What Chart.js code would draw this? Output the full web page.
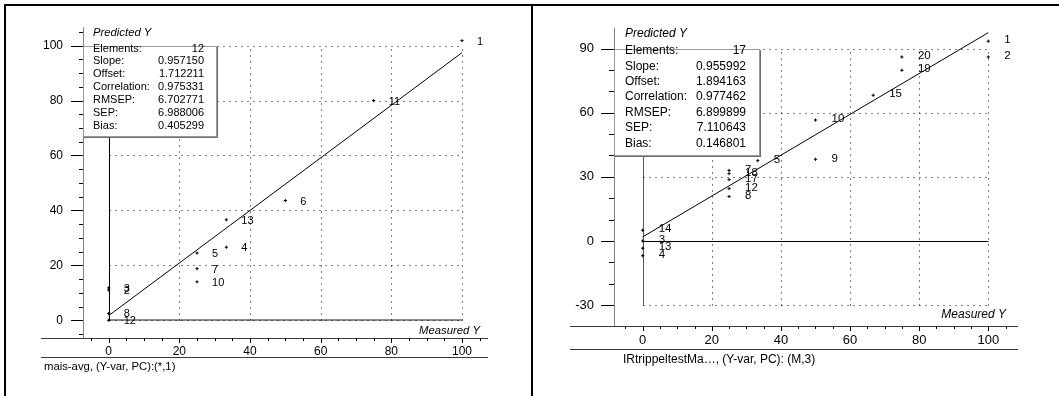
<!DOCTYPE html>
<html>
<head>
<meta charset="utf-8">
<script src="https://cdn.jsdelivr.net/npm/chart.js@4/dist/chart.umd.min.js"></script>
<style>
  body { margin: 0; background: #fff; width: 1059px; height: 396px; position: relative; overflow: hidden; }
  .pane { position: absolute; top: 0; height: 396px; }
  .frame { position: absolute; background: #000; }
</style>
</head>
<body>
<div class="pane" style="left:0;width:531px"><canvas id="left" width="531" height="396"></canvas></div>
<div class="pane" style="left:531px;width:528px"><canvas id="right" width="528" height="396"></canvas></div>
<div class="frame" style="left:4px;top:4px;width:2px;height:392px"></div>
<div class="frame" style="left:4px;top:4px;width:1055px;height:2px"></div>
<div class="frame" style="left:531px;top:4px;width:2px;height:392px"></div>
<script>
// left plot: mais-avg
const leftIds       = ['1', '2', '3', '4', '5', '6', '7', '8', '10', '11', '12', '13'];
const leftMeasured  = [100, 0, 0, 33.3, 25, 50, 25, 0, 25, 75, 0, 33.3];
const leftPredicted = [101.8, 11.0, 11.8, 26.6, 24.5, 43.6, 18.8, 2.5, 14.0, 80.0, 0, 36.6];
const leftFitX = [0, 100];
const leftFitY = [1.71, 97.43];
const leftStatValues = ['12', '0.957150', '1.712211', '0.975331', '6.702771', '6.988006', '0.405299'];
const leftXTicks = [0, 20, 40, 60, 80, 100];
const leftYTicks = [0, 20, 40, 60, 80, 100];

// right plot: IRtrippeltest
const rightIds       = ['1', '2', '20', '19', '15', '10', '9', '5', '7', '18', '17', '12', '8', '14', '3', '13', '4'];
const rightMeasured  = [100, 100, 75, 75, 66.7, 50, 50, 33.3, 25, 25, 25, 25, 25, 0, 0, 0, 0];
const rightPredicted = [93.5, 86.1, 86.1, 79.9, 68.2, 56.6, 38.2, 37.6, 33.0, 31.5, 28.7, 24.5, 20.8, 5.0, 0, -3.4, -6.9];
const rightFitX = [0, 100];
const rightFitY = [1.89, 97.49];
const rightStatValues = ['17', '0.955992', '1.894163', '0.977462', '6.899899', '7.110643', '0.146801'];
const rightXTicks = [0, 20, 40, 60, 80, 100];
const rightYTicks = [-30, 0, 30, 60, 90];

const statNames = ['Elements:', 'Slope:', 'Offset:', 'Correlation:', 'RMSEP:', 'SEP:', 'Bias:'];
const FONT = '"Liberation Sans", Arial, sans-serif';

function seg(ctx, x1, y1, x2, y2) {
    ctx.beginPath();
    ctx.moveTo(x1, y1);
    ctx.lineTo(x2, y2);
    ctx.stroke();
}

function scatterPanel(id, p) {
    const pts = p.xs.map((v, i) => ({x: v, y: p.ys[i]}));
    const fit = p.fitX.map((v, i) => ({x: v, y: p.fitY[i]}));

    const panelPlugin = {
        id: 'panel' + id,
        beforeDatasetsDraw(chart) {
            const ctx = chart.ctx;
            const x = chart.scales.x, y = chart.scales.y;
            const a = chart.chartArea;
            const px = v => Math.round(x.getPixelForValue(v)) + 0.5;
            const py = v => Math.round(y.getPixelForValue(v)) + 0.5;
            ctx.save();
            ctx.lineWidth = 1;

            // zero lines
            if (p.zeroGray) {
                ctx.strokeStyle = '#8c8c8c';
                ctx.lineWidth = 2;
                seg(ctx, px(0), Math.round(y.getPixelForValue(0)), px(100), Math.round(y.getPixelForValue(0)));
                ctx.lineWidth = 1;
            } else {
                ctx.strokeStyle = '#000';
                seg(ctx, px(0), py(0), px(100), py(0));
            }
            ctx.strokeStyle = p.zeroXColor;
            seg(ctx, px(0), py(p.yLo), px(0), py(p.yHi));

            // dotted grid
            ctx.strokeStyle = '#000';
            ctx.setLineDash([1, 5]);
            p.gridX.forEach(v => seg(ctx, px(v), py(p.yLo), px(v), py(p.yHi)));
            p.gridY.forEach(v => seg(ctx, px(0), py(v), px(100), py(v)));
            ctx.setLineDash([]);

            // axis lines
            ctx.strokeStyle = '#808080';
            seg(ctx, a.left + 0.5, a.top, a.left + 0.5, a.bottom);
            ctx.strokeStyle = '#3a3a3a';
            seg(ctx, p.lineL, a.bottom + 0.5, a.right, a.bottom + 0.5);
            seg(ctx, p.lineL, p.line2 + 0.5, a.right, p.line2 + 0.5);

            // ticks
            ctx.strokeStyle = '#000';
            for (let v = Math.ceil(y.min / p.yMinor) * p.yMinor; v <= y.max; v += p.yMinor) {
                const major = p.yTicks.includes(v);
                seg(ctx, a.left - (major ? p.yMajorLen : p.yMinorLen), py(v), a.left, py(v));
            }
            for (let v = Math.ceil(x.min / 5) * 5; v <= x.max; v += 5) {
                const major = p.xTicks.includes(v);
                seg(ctx, px(v), a.bottom, px(v), a.bottom + (major ? 5 : 3));
            }
            ctx.restore();
        },
        afterDatasetsDraw(chart) {
            const ctx = chart.ctx;
            const x = chart.scales.x, y = chart.scales.y;
            const a = chart.chartArea;
            ctx.save();
            ctx.fillStyle = '#000';
            ctx.textBaseline = 'middle';

            // point numbers
            ctx.font = p.labelSize + 'px ' + FONT;
            ctx.textAlign = 'left';
            pts.forEach((pt, i) => {
                ctx.fillText(p.ids[i], x.getPixelForValue(pt.x) + p.labelDx, y.getPixelForValue(pt.y) + p.labelDy);
            });

            // statistics box
            const bx = a.left, by = Math.round(y.getPixelForValue(p.yTicks[p.yTicks.length - 1]));
            const bw = p.boxRight - bx, bh = p.boxBottom - by;
            ctx.fillStyle = '#fff';
            ctx.fillRect(bx, by, bw, bh);
            ctx.strokeStyle = '#9a9a9a';
            ctx.lineWidth = 1;
            ctx.strokeRect(bx + 0.5, by + 0.5, bw, bh);
            ctx.strokeStyle = '#6e6e6e';
            seg(ctx, bx + bw + 1.5, by + 1, bx + bw + 1.5, by + bh + 2);
            seg(ctx, bx + 1, by + bh + 1.5, bx + bw + 2, by + bh + 1.5);

            ctx.fillStyle = '#000';
            ctx.font = p.boxSize + 'px ' + FONT;
            statNames.forEach((n, i) => {
                const ty = p.rowTop + i * p.rowStep;
                ctx.textAlign = 'left';
                ctx.fillText(n, p.textL, ty);
                ctx.textAlign = 'right';
                ctx.fillText(p.stats[i], p.textR, ty);
            });

            // axis titles
            ctx.font = 'italic ' + p.titleSize + 'px ' + FONT;
            ctx.textAlign = 'left';
            ctx.fillText('Predicted Y', p.textL, p.predY);
            ctx.textAlign = 'right';
            ctx.fillText('Measured Y', p.measX, p.measY);

            // footer
            ctx.font = p.footSize + 'px ' + FONT;
            ctx.textAlign = 'left';
            ctx.fillText(p.footer, p.footX, p.footY);
            ctx.restore();
        }
    };

    const config = {
        type: 'scatter',
        data: {
            datasets: [{
                data: fit,
                showLine: true,
                borderColor: '#000',
                borderWidth: 1,
                pointRadius: 0
            }, {
                data: pts,
                pointStyle: 'cross',
                pointRadius: 1.6,
                borderColor: '#000',
                borderWidth: 1
            }]
        },
        options: {
            responsive: false,
            animation: false,
            devicePixelRatio: 1,
            layout: {padding: {top: 22, right: p.padRight, left: 0, bottom: 0}},
            plugins: {legend: {display: false}, tooltip: {enabled: false}},
            scales: {
                x: {
                    type: 'linear', position: 'bottom', min: p.xMin, max: p.xMax,
                    grid: {display: false, drawTicks: false}, border: {display: false},
                    ticks: {padding: p.xPad, color: '#000', maxRotation: 0, font: {family: FONT, size: p.tickSize}},
                    afterBuildTicks: s => { s.ticks = p.xTicks.map(v => ({value: v})); },
                    afterFit: s => { s.height = p.xHeight; }
                },
                y: {
                    type: 'linear', position: 'left', min: p.yMin, max: p.yMax,
                    grid: {display: false, drawTicks: false}, border: {display: false},
                    ticks: {padding: 20, color: '#000', font: {family: FONT, size: p.tickSize}},
                    afterBuildTicks: s => { s.ticks = p.yTicks.map(v => ({value: v})); },
                    afterFit: s => { s.width = 83; }
                }
            }
        },
        plugins: [panelPlugin]
    };

    new Chart(document.getElementById(id), config);
}

scatterPanel('left', {
    ids: leftIds, xs: leftMeasured, ys: leftPredicted, fitX: leftFitX, fitY: leftFitY,
    stats: leftStatValues, xTicks: leftXTicks, yTicks: leftYTicks,
    xMin: -7.27, xMax: 107.36, yMin: -6.44, yMax: 106.7,
    padRight: 43, xHeight: 58, xPad: 6, tickSize: 12,
    gridX: [20, 40, 60, 80, 100], gridY: [0, 20, 40, 60, 80, 100], yLo: 0, yHi: 100,
    zeroGray: true, zeroXColor: '#000', yMinor: 5, yMajorLen: 12, yMinorLen: 4,
    lineL: 41, line2: 357,
    labelSize: 11, labelDx: 15, labelDy: 1,
    boxRight: 216, boxBottom: 136, boxSize: 11, rowTop: 48.5, rowStep: 12.9, textL: 93, textR: 204,
    titleSize: 11.3, predY: 32.5, measX: 480, measY: 330.5,
    footer: 'mais-avg, (Y-var, PC):(*,1)', footSize: 11.3, footX: 44, footY: 366.5
});

scatterPanel('right', {
    ids: rightIds, xs: rightMeasured, ys: rightPredicted, fitX: rightFitX, fitY: rightFitY,
    stats: rightStatValues, xTicks: rightXTicks, yTicks: rightYTicks,
    xMin: -8.30, xMax: 108.6, yMin: -39.81, yMax: 99.77,
    padRight: 41, xHeight: 70, xPad: 7, tickSize: 13,
    gridX: [20, 40, 60, 80, 100], gridY: [-30, 30, 60, 90], yLo: -30, yHi: 90,
    zeroGray: false, zeroXColor: '#555', yMinor: 10, yMajorLen: 13, yMinorLen: 5,
    lineL: 39, line2: 349,
    labelSize: 11.5, labelDx: 16, labelDy: -1,
    boxRight: 228, boxBottom: 155, boxSize: 12, rowTop: 50.8, rowStep: 15.4, textL: 94, textR: 215,
    titleSize: 12, predY: 33.5, measX: 475, measY: 315,
    footer: 'IRtrippeltestMa…, (Y-var, PC): (M,3)', footSize: 12, footX: 92, footY: 360
});
</script>
</body>
</html>
